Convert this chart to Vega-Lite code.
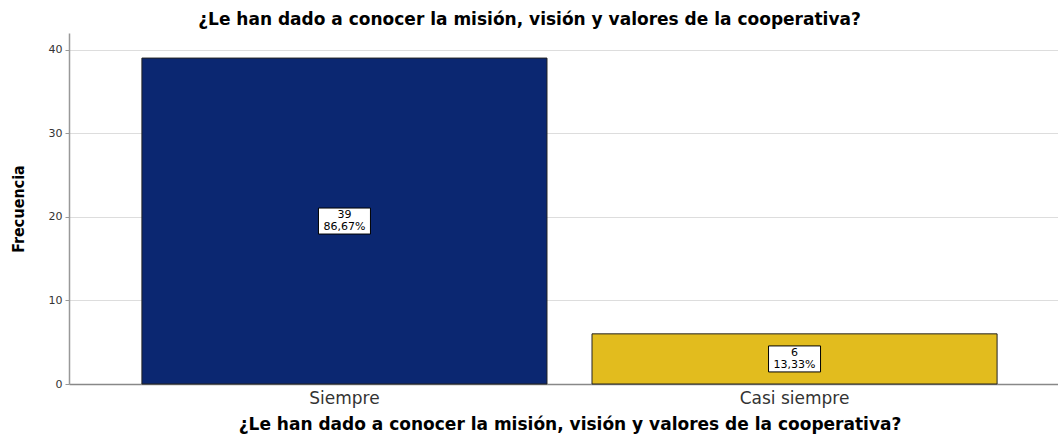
{
  "$schema": "https://vega.github.io/schema/vega-lite/v6.json",
  "autosize": "none",
  "width": 1001,
  "height": 351,
  "padding": {"left": 69, "top": 33, "right": 0, "bottom": 51},
  "background": "white",
  "title": {
    "text": "¿Le han dado a conocer la misión, visión y valores de la cooperativa?",
    "font": "DejaVu Sans",
    "fontSize": 17,
    "fontWeight": "bold",
    "color": "#000000",
    "anchor": "middle",
    "dx": -40,
    "offset": 4
  },
  "config": {
    "view": {"stroke": null},
    "axis": {"labelFont": "DejaVu Sans", "titleFont": "DejaVu Sans"}
  },
  "data": {
    "values": [
      {"categoria": "Siempre", "frecuencia": 39, "porcentaje": "86,67%"},
      {"categoria": "Casi siempre", "frecuencia": 6, "porcentaje": "13,33%"}
    ]
  },
  "layer": [
    {
      "mark": {"type": "bar", "stroke": "#222222", "strokeWidth": 1},
      "encoding": {
        "x": {
          "field": "categoria",
          "type": "nominal",
          "sort": ["Siempre", "Casi siempre"],
          "scale": {"paddingInner": 0.1, "paddingOuter": 0.162},
          "axis": {
            "title": "¿Le han dado a conocer la misión, visión y valores de la cooperativa?",
            "titleFontSize": 17,
            "titleFontWeight": "bold",
            "titleColor": "#000000",
            "titlePadding": 10,
            "labelAngle": 0,
            "labelFontSize": 17,
            "labelColor": "#333333",
            "labelPadding": 6,
            "ticks": false,
            "domainColor": "#888888",
            "domainWidth": 1.5
          }
        },
        "y": {
          "field": "frecuencia",
          "type": "quantitative",
          "scale": {"domain": [0, 42], "nice": false},
          "axis": {
            "title": "Frecuencia",
            "titleFont": "DejaVu Sans Condensed",
            "titleFontSize": 16,
            "titleFontWeight": "bold",
            "titleColor": "#000000",
            "titlePadding": 22,
            "values": [0, 10, 20, 30, 40],
            "labelFontSize": 11,
            "labelColor": "#333333",
            "labelPadding": 3,
            "tickSize": 4,
            "tickColor": "#999999",
            "domainColor": "#999999",
            "domainWidth": 1.5,
            "gridColor": "#dddddd",
            "grid": true
          }
        },
        "color": {
          "field": "categoria",
          "type": "nominal",
          "scale": {"domain": ["Siempre", "Casi siempre"], "range": ["#0b2771", "#e2bc1e"]},
          "legend": null
        }
      }
    },
    {
      "mark": {"type": "point", "shape": "M-1,-0.5H1V0.5H-1Z", "filled": true, "fill": "white", "stroke": "#000000", "strokeWidth": 1, "size": 2704, "opacity": 1},
      "encoding": {
        "x": {"field": "categoria", "type": "nominal", "sort": ["Siempre", "Casi siempre"]},
        "y": {"field": "frecuencia", "type": "quantitative", "scale": {"domain": [0, 84], "nice": false}, "axis": null}
      }
    },
    {
      "mark": {"type": "text", "font": "DejaVu Sans", "fontSize": 11, "color": "#000000", "dy": -6, "baseline": "middle"},
      "encoding": {
        "x": {"field": "categoria", "type": "nominal", "sort": ["Siempre", "Casi siempre"]},
        "y": {"field": "frecuencia", "type": "quantitative", "scale": {"domain": [0, 84], "nice": false}, "axis": null},
        "text": {"field": "frecuencia", "type": "quantitative"}
      }
    },
    {
      "mark": {"type": "text", "font": "DejaVu Sans", "fontSize": 11, "color": "#000000", "dy": 6, "baseline": "middle"},
      "encoding": {
        "x": {"field": "categoria", "type": "nominal", "sort": ["Siempre", "Casi siempre"]},
        "y": {"field": "frecuencia", "type": "quantitative", "scale": {"domain": [0, 84], "nice": false}, "axis": null},
        "text": {"field": "porcentaje", "type": "nominal"}
      }
    }
  ],
  "resolve": {"scale": {"y": "independent"}}
}
